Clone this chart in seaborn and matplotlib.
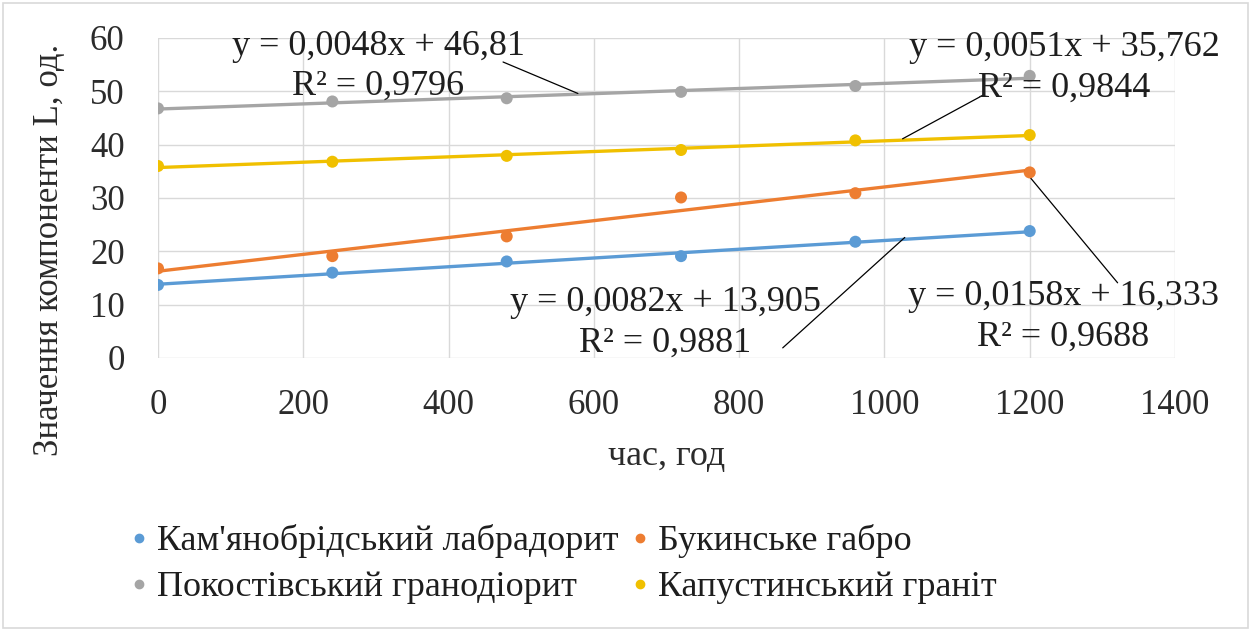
import numpy as np
import pandas as pd
import seaborn as sns
import matplotlib.pyplot as plt
from matplotlib.lines import Line2D
from matplotlib.patches import Rectangle

# ---- data ----
hours = [0, 240, 480, 720, 960, 1200]
labradorite = [13.7, 16.0, 18.1, 19.1, 21.8, 23.8]
gabbro = [16.8, 19.1, 22.8, 30.1, 30.9, 34.8]
granodiorite = [46.8, 48.1, 48.7, 49.9, 51.0, 52.9]
granite = [36.0, 36.8, 37.9, 39.0, 40.8, 41.8]

series_names = ["Кам'янобрідський лабрадорит", "Букинське габро",
                "Покостівський гранодіорит", "Капустинський граніт"]
series_colors = ["#5B9BD5", "#ED7D31", "#A5A5A5", "#F0C000"]
eq_labels = ["y = 0,0082x + 13,905\nR² = 0,9881",
             "y = 0,0158x + 16,333\nR² = 0,9688",
             "y = 0,0048x + 46,81\nR² = 0,9796",
             "y = 0,0051x + 35,762\nR² = 0,9844"]
x_ticks = [0, 200, 400, 600, 800, 1000, 1200, 1400]
y_ticks = [0, 10, 20, 30, 40, 50, 60]
x_title = "час, год"
y_title = "Значення компоненти L, од."

values = [labradorite, gabbro, granodiorite, granite]
df = pd.DataFrame({
    "hours": np.tile(hours, 4),
    "value": np.concatenate(values),
    "series": np.repeat(series_names, len(hours)),
})

sns.set_theme(style="whitegrid")
plt.rcParams['font.family'] = ['Liberation Serif', 'DejaVu Serif']

fig = plt.figure(figsize=(12.52, 6.30), dpi=100)
ax = fig.add_axes([158/1252, 1 - 358/630, (1175 - 158)/1252, (358 - 38)/630])

for name, color in zip(series_names, series_colors):
    sub = df[df["series"] == name]
    sns.regplot(data=sub, x="hours", y="value", ax=ax, ci=None, truncate=True,
                scatter=False, color=color, line_kws=dict(lw=2.4, zorder=3))
sns.scatterplot(data=df, x="hours", y="value", hue="series", hue_order=series_names,
                palette=series_colors, s=75, edgecolor="none", ax=ax, legend=False, zorder=4)

ax.set_xlim(0, 1400)
ax.set_ylim(0, 60)
ax.set_xticks(x_ticks)
ax.set_yticks(y_ticks)
ax.grid(True, color="#D9D9D9", lw=1)
for s in ax.spines.values():
    s.set_visible(False)
ax.tick_params(axis="x", labelsize=25, pad=22, colors="#2b2b2b", length=0)
ax.tick_params(axis="y", labelsize=25, pad=24, colors="#2b2b2b", length=0)
ax.set_xlabel(x_title, fontsize=26, labelpad=13, color="#2b2b2b")
ax.set_ylabel(y_title, fontsize=25, color="#2b2b2b")
ax.yaxis.set_label_coords((66 - 158) / 1017, (358 - 250) / 320)

# trendline equation labels with leader lines
text_kw = dict(fontsize=26, ha="center", va="center", linespacing=1.3, color="#1e1e1e", zorder=5)
label_pos = [(698, 6.6), (1246, 7.7), (303, 54.7), (1248, 54.4)]
leaders = [((860, 1.9), (1028, 22.6)), ((1321, 14.1), (1193, 35.1)),
           ((475, 55.5), (578, 49.6)), ((1136, 49.3), (1025, 41.1))]
for lab, pos, (start, tip) in zip(eq_labels, label_pos, leaders):
    ax.text(pos[0], pos[1], lab, clip_on=False, **text_kw)
    ax.annotate("", xy=tip, xytext=start, annotation_clip=False,
                arrowprops=dict(arrowstyle="-", color="black", lw=0.9, shrinkA=0, shrinkB=0))

# legend (row-major order like Excel)
handles = [Line2D([], [], ls="none", marker="o", ms=6, color=c) for c in series_colors]
order = [0, 2, 1, 3]
fig.legend([handles[i] for i in order], [series_names[i] for i in order],
           ncol=2, loc="upper left", bbox_to_anchor=(88/1252, 1 - 492/630),
           frameon=False, fontsize=26, handletextpad=0.0, columnspacing=0.1,
           handlelength=1.0, labelspacing=0.35, labelcolor="#1e1e1e")

fig.patches.append(Rectangle((0.002, 0.003), 0.995, 0.992, transform=fig.transFigure,
                             fill=False, edgecolor="#D9D9D9", lw=1.2))

fig.savefig("out.png", dpi=100)
